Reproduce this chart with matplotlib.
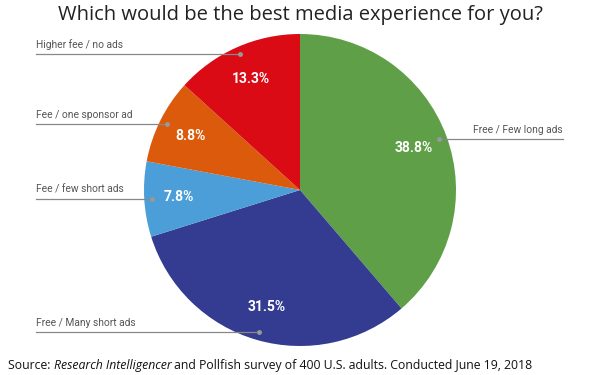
import numpy as np
import matplotlib.pyplot as plt

labels = ['Free / Few long ads', 'Free / Many short ads', 'Fee / few short ads',
          'Fee / one sponsor ad', 'Higher fee / no ads']
values = [38.8, 31.5, 7.8, 8.8, 13.3]
colors = ['#5f9f47', '#333c90', '#4b9ed8', '#dc5a0c', '#da0b15']

W, H = 600, 375
cx, cy, R = 300, 190, 156  # pie centre/radius in pixels (from top-left)

fig = plt.figure(figsize=(W / 100, H / 100), dpi=100)
ax = fig.add_axes([0, 0, 1, 1])

wedges, _ = ax.pie(values, colors=colors, startangle=90, counterclock=False,
                   radius=1, wedgeprops=dict(linewidth=0))
ax.set_xlim(-cx / R, (W - cx) / R)
ax.set_ylim(-(H - cy) / R, cy / R)
ax.axis('off')

left_x = (36 - cx) / R
right_x = (563 - cx) / R
for w, lab, v in zip(wedges, labels, values):
    mid = np.deg2rad((w.theta1 + w.theta2) / 2)
    ax.text(0.78 * np.cos(mid), 0.78 * np.sin(mid), f'{v:.1f}%', ha='center', va='center',
            color='white', fontsize=10, fontweight='bold', family='Roboto')
    px, py = 0.95 * np.cos(mid), 0.95 * np.sin(mid)
    ax.plot(px, py, 'o', ms=2.5, color='#999999', zorder=5)
    if px < 0:
        ax.plot([left_x, px], [py, py], color='#888888', lw=0.9, zorder=4)
        ax.text(left_x, py + 4 / R, lab, ha='left', va='bottom',
                fontsize=7.4, color='#555555', family='Roboto')
    else:
        ax.plot([px, right_x], [py, py], color='#888888', lw=0.9, zorder=4)
        ax.text(right_x, py + 4 / R, lab, ha='right', va='bottom',
                fontsize=7.4, color='#555555', family='Roboto')

fig.text(0.5, 1 - 15 / H, 'Which would be the best media experience for you?',
         ha='center', va='center', fontsize=14.5, color='#222222', family='Open Sans')

t1 = fig.text(8 / W, 3 / H, 'Source: ', ha='left', va='bottom',
              fontsize=8.8, color='#111111', family='Open Sans')
t2 = ax.annotate('Research Intelligencer', xy=(1, 0), xycoords=t1, ha='left', va='bottom',
                 fontsize=8.8, color='#111111', family='Open Sans', style='italic')
ax.annotate(' and Pollfish survey of 400 U.S. adults. Conducted June 19, 2018', xy=(1, 0),
            xycoords=t2, ha='left', va='bottom',
            fontsize=8.8, color='#111111', family='Open Sans')

fig.savefig('out.png', dpi=100)
